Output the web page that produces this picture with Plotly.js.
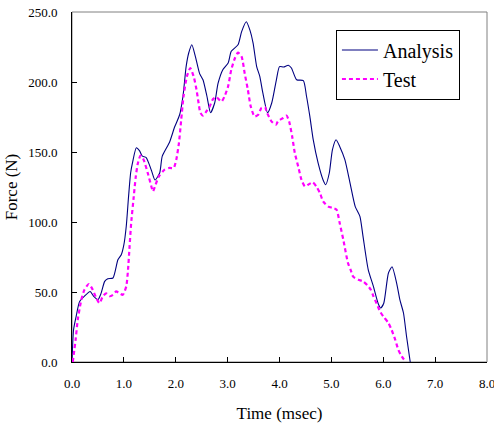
<!DOCTYPE html>
<html>
<head>
<meta charset="utf-8">
<script src="https://cdn.plot.ly/plotly-3.0.1.min.js"></script>
<style>html,body{margin:0;padding:0;background:#fff;}#chart{width:494px;height:423px;}</style>
</head>
<body>
<div id="chart"></div>
<script>
const analysisTime = [0, 0.03, 0.08, 0.145, 0.24, 0.35, 0.415, 0.5, 0.56, 0.63, 0.69, 0.79, 0.885, 0.95, 1.0, 1.046, 1.09, 1.13, 1.17, 1.24, 1.30, 1.355, 1.43, 1.53, 1.6, 1.69, 1.74, 1.88, 1.98, 2.075, 2.14, 2.2, 2.25, 2.31, 2.38, 2.46, 2.525, 2.6, 2.67, 2.75, 2.815, 2.91, 3.01, 3.07, 3.2, 3.27, 3.36, 3.43, 3.49, 3.56, 3.62, 3.68, 3.77, 3.85, 3.94, 4.0, 4.08, 4.17, 4.23, 4.33, 4.46, 4.52, 4.585, 4.65, 4.745, 4.84, 4.89, 4.96, 5.02, 5.09, 5.16, 5.26, 5.36, 5.46, 5.55, 5.61, 5.71, 5.81, 5.9, 5.95, 6.01, 6.1, 6.17, 6.26, 6.32, 6.39, 6.45, 6.52];
const analysisForce = [0, 23, 32.6, 43, 47, 50.4, 47, 44.5, 49, 57.6, 59.5, 60, 73, 76.6, 83.8, 97, 118, 135, 143, 153, 151, 147, 146, 137, 130, 135, 147, 157, 168, 176.6, 190, 211, 220.7, 226.6, 218, 206, 201.6, 190, 178, 185, 199, 209, 213.6, 221.9, 226.6, 236, 243, 237, 228, 211, 204, 192, 178, 185, 201.6, 211, 210.7, 212, 210, 201.6, 201, 190, 175.4, 158.8, 142, 130, 126.6, 135, 151.6, 158.8, 154, 144.5, 127.8, 111, 104, 89.7, 66, 54, 42, 38.6, 42, 63.6, 68, 56, 44.5, 35, 18, 0];
const testTime = [0.015, 0.07, 0.11, 0.18, 0.24, 0.325, 0.4, 0.467, 0.53, 0.595, 0.66, 0.72, 0.79, 0.85, 0.92, 0.98, 1.046, 1.08, 1.11, 1.14, 1.19, 1.23, 1.27, 1.32, 1.38, 1.46, 1.53, 1.56, 1.61, 1.675, 1.785, 1.88, 1.96, 2.01, 2.06, 2.105, 2.15, 2.215, 2.28, 2.345, 2.4, 2.44, 2.475, 2.525, 2.59, 2.655, 2.72, 2.78, 2.88, 2.94, 3.01, 3.07, 3.14, 3.2, 3.27, 3.33, 3.39, 3.445, 3.52, 3.59, 3.65, 3.72, 3.76, 3.845, 3.93, 3.97, 4.07, 4.135, 4.185, 4.245, 4.295, 4.36, 4.425, 4.49, 4.55, 4.64, 4.71, 4.78, 4.84, 4.94, 5.03, 5.1, 5.16, 5.23, 5.32, 5.37, 5.42, 5.52, 5.61, 5.69, 5.76, 5.81, 5.87, 5.94, 6.0, 6.1, 6.16, 6.23, 6.29, 6.355, 6.44];
const testForce = [0, 16, 30, 44.5, 51.6, 55.7, 51.6, 45.7, 42, 47, 49, 47, 48, 50.4, 49, 48, 54, 66, 82.6, 99, 118, 132.6, 142, 147.4, 144.5, 135, 125.4, 121.9, 126.6, 132.6, 137.4, 138.6, 138.6, 144.5, 156, 173, 189.7, 204, 210, 204, 194.5, 185, 178, 176, 179, 182.6, 187.9, 189.3, 186, 189.7, 197, 208.8, 217, 221, 218, 206, 194.5, 182.6, 175.4, 176.6, 181.4, 182, 178, 171.9, 169.5, 171.9, 174.3, 176, 171.9, 161, 149.3, 139.7, 130, 125.4, 126.6, 128.3, 125.4, 120.7, 114.7, 111, 110, 108.8, 99.3, 87.4, 70.7, 66, 61, 58.8, 57.6, 55, 51.6, 47, 42, 36, 32.6, 27.9, 23, 16, 8.8, 4, 0];
const seriesNames = ["Analysis", "Test"];
const xTicks = [0, 1, 2, 3, 4, 5, 6, 7, 8];
const yTicks = [0, 50, 100, 150, 200, 250];

const serif = "'Liberation Serif', 'Times New Roman', Times, serif";
const traces = [
  {x: analysisTime, y: analysisForce, name: seriesNames[0], mode: "lines",
   line: {color: "#000080", width: 1.1, shape: "spline", smoothing: 0.6}},
  {x: testTime, y: testForce, name: seriesNames[1], mode: "lines",
   line: {color: "#FF00FF", width: 2.2, dash: "4px,3px", shape: "spline", smoothing: 0.6}}
];
const layout = {
  width: 494, height: 423,
  margin: {l: 72, r: 7, t: 12, b: 61},
  paper_bgcolor: "#fff", plot_bgcolor: "#fff",
  showlegend: true,
  legend: {x: 0.636, y: 0.95, xanchor: "left", yanchor: "top",
    bordercolor: "#000", borderwidth: 1, bgcolor: "#fff",
    font: {family: serif, size: 20, color: "#000"}, itemwidth: 36, tracegroupgap: 0},
  xaxis: {range: [0, 8], tickvals: xTicks, ticktext: xTicks.map(v => v.toFixed(1)),
    showgrid: false, zeroline: false, showline: true, linecolor: "#000", linewidth: 1,
    ticks: "inside", ticklen: 5, tickcolor: "#000", ticklabeloverflow: "allow",
    ticklabelstandoff: 9,
    tickfont: {family: serif, size: 13, color: "#000"},
    title: {text: "Time (msec)", font: {family: serif, size: 17, color: "#000"}, standoff: 18}},
  yaxis: {range: [0, 250], tickvals: yTicks, ticktext: yTicks.map(v => v.toFixed(1)),
    showgrid: false, zeroline: false, showline: true, linecolor: "#000", linewidth: 1,
    ticks: "inside", ticklen: 5, tickcolor: "#000", ticklabelstandoff: 11,
    tickfont: {family: serif, size: 13, color: "#000"},
    title: {text: "Force (N)", font: {family: serif, size: 17, color: "#000"}, standoff: 6}},
  shapes: [{type: "rect", xref: "paper", yref: "paper", x0: 0, x1: 1, y0: 0, y1: 1,
    line: {color: "#808080", width: 1}, layer: "below"}]
};
Plotly.newPlot("chart", traces, layout, {displayModeBar: false, staticPlot: true});
</script>
</body>
</html>
